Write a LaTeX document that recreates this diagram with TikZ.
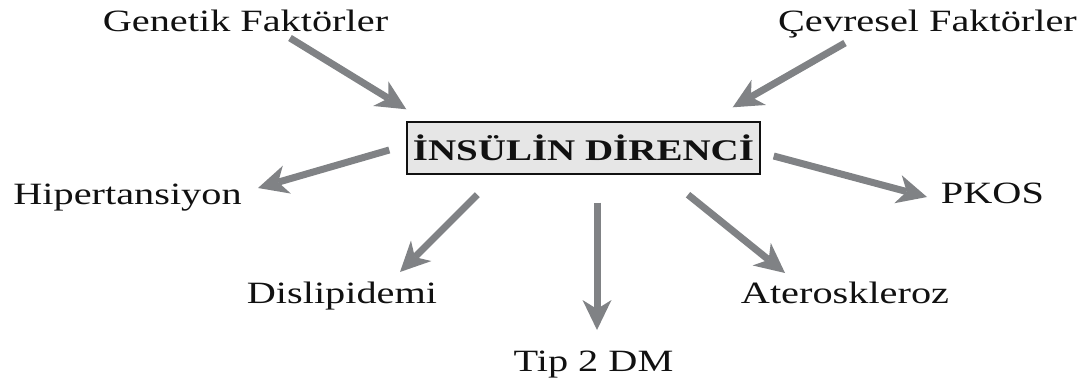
\documentclass[tikz,border=0pt]{standalone}
\usepackage{fontspec}
\setmainfont[FakeStretch=1.3]{Liberation Serif}
\usepackage{tikz}
\usetikzlibrary{positioning,arrows.meta}
\definecolor{ink}{HTML}{111111}
\definecolor{arrowgray}{HTML}{808285}
\definecolor{boxgray}{HTML}{E6E6E6}
\newcommand{\lblsize}{\fontsize{31}{36}\selectfont}

\begin{document}
\begin{tikzpicture}[x=1pt,y=-1pt,every node/.style={font=\lblsize,text=ink,inner sep=0pt},
 lbl/.style={anchor=base},
 hub/.style={draw=ink,line width=1.4pt,fill=boxgray,minimum width=353pt,minimum height=52pt,font=\fontsize{30}{36}\selectfont\bfseries},
 arr/.style={arrowgray,line width=7pt,-{Stealth[length=30pt,width=29pt,inset=9pt,line width=0pt]}}]
 \useasboundingbox (0,0) rectangle (1084,385);
 \node[hub] (ins) at (583.5,148) {İNSÜLİN DİRENCİ};
 \node[lbl] (gen) at (245.5,32) {Genetik Faktörler};
 \node[lbl] (cev) at (927.5,32) {Çevresel Faktörler};
 \node[lbl] (hip) at (127.5,204) {Hipertansiyon};
 \node[lbl] (pk) at (992.5,203) {PKOS};
 \node[lbl] (dis) at (342,303) {Dislipidemi};
 \node[lbl] (ate) at (845,303) {Ateroskleroz};
 \node[lbl] (tip) at (593.5,371) {Tip 2 DM};
 \draw[arr] ([shift={(44.5,6)}]gen.base) -- ([shift={(0,-12)}]ins.north west);
 \draw[arr] ([shift={(-82.5,11)}]cev.base) -- ([shift={(-28,-14)}]ins.north east);
 \draw[arr] ([shift={(-17,2)}]ins.west) -- ([shift={(130.5,-16)}]hip.base);
 \draw[arr] ([shift={(13,8)}]ins.east) -- ([shift={(-65.5,-6)}]pk.base);
 \draw[arr] ([shift={(71,20)}]ins.south west) -- ([shift={(58,-31)}]dis.base);
 \draw[arr] ([shift={(13.5,28)}]ins.south) -- ([shift={(3.5,-41)}]tip.base);
 \draw[arr] ([shift={(104.5,20)}]ins.south) -- ([shift={(-60,-30)}]ate.base);
\end{tikzpicture}
\end{document}
